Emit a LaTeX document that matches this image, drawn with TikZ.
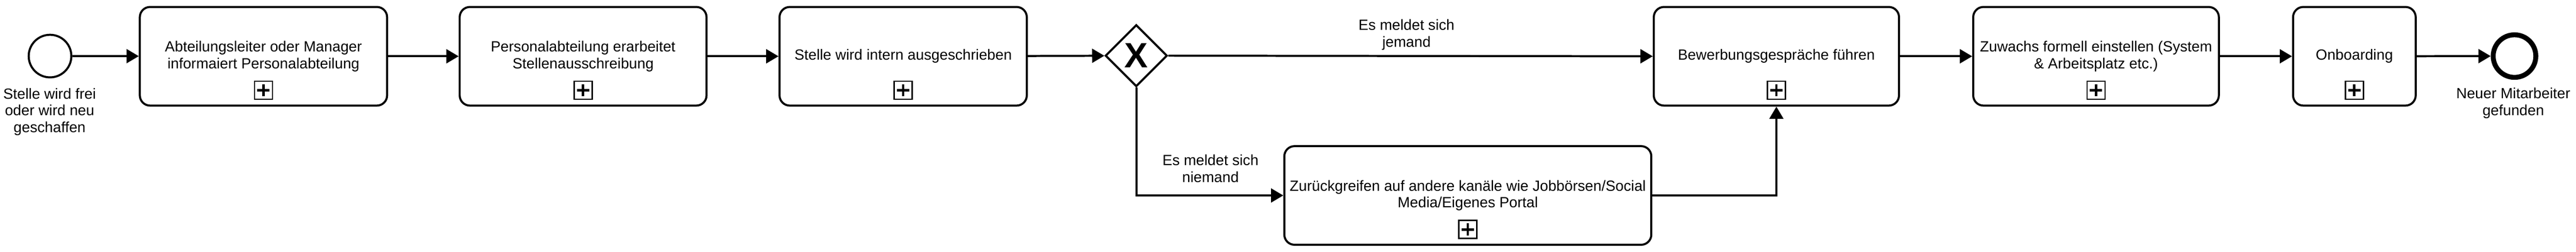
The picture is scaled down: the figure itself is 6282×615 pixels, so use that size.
\documentclass[tikz,border=0pt]{standalone}
\usepackage{fontspec}
\setmainfont{Liberation Sans}
\usetikzlibrary{arrows.meta,shapes.geometric}
\tikzset{
  txt/.style={font=\fontsize{36}{41}\selectfont, align=center},
  task/.style={draw, line width=5pt, rounded corners=25pt, minimum height=241pt, inner sep=0pt, txt, fill=white},
  startev/.style={draw, circle, line width=5pt, minimum size=104pt, inner sep=0pt},
  endev/.style={draw, circle, line width=12pt, minimum size=104pt, inner sep=0pt},
  gate/.style={draw, diamond, aspect=1, line width=5pt, minimum size=151pt, inner sep=0pt,
    font=\fontsize{86}{86}\selectfont\bfseries},
  flow/.style={line width=5pt, -{Triangle[length=30pt,width=34pt]}},
  lbl/.style={txt, inner sep=0pt},
}
\newcommand{\plusmark}[1]{%
  \draw[line width=3pt] ([xshift=-22pt,yshift=18pt]#1.south) rectangle ([xshift=22pt,yshift=62pt]#1.south);
  \draw[line width=6pt] ([yshift=25pt]#1.south) -- ([yshift=55pt]#1.south);
  \draw[line width=6pt] ([xshift=-15pt,yshift=40pt]#1.south) -- ([xshift=15pt,yshift=40pt]#1.south);
}
\begin{document}
\begin{tikzpicture}[x=1pt,y=-1pt]
\useasboundingbox[fill=white] (0,0) rectangle (6282,615);

\node[startev] (start) at (122,137) {};
\node[lbl] (startlbl) at (121,273) {Stelle wird frei\\oder wird neu\\geschaffen};

\node[task, minimum width=603pt] (b1) at (642.5,137.5) {Abteilungsleiter oder Manager\\informaiert Personalabteilung};
\node[task, minimum width=602pt] (b2) at (1422,137.5) {Personalabteilung erarbeitet\\Stellenausschreibung};
\node[task, minimum width=603pt] (b3) at (2202.5,137.5) {Stelle wird intern ausgeschrieben};
\node[gate] (gw) at (2771,136) {X};
\node[task, minimum width=598pt] (bew) at (4332,137.5) {Bewerbungsgespräche führen};
\node[task, minimum width=599pt] (zu) at (5111.5,137.5) {Zuwachs formell einstellen (System\\\& Arbeitsplatz etc.)};
\node[task, minimum width=299pt] (onb) at (5741.5,137.5) {Onboarding};
\node[endev] (end) at (6132,137) {};
\node[lbl] (endlbl) at (6129,252) {Neuer Mitarbeiter\\gefunden};

\node[task, minimum width=895pt] (alt) at (3579.5,477.5) {Zurückgreifen auf andere kanäle wie Jobbörsen/Social\\Media/Eigenes Portal};

\foreach \n in {b1,b2,b3,bew,zu,onb,alt} {\plusmark{\n}}

\node[lbl] (ljemand) at (3430,85) {Es meldet sich\\jemand};
\node[lbl] (lniemand) at (2952,412) {Es meldet sich\\niemand};

\draw[flow] (start) -- (b1);
\draw[flow] (b1) -- (b2);
\draw[flow] (b2) -- (b3);
\draw[flow] (b3) -- (gw);
\draw[flow] (gw.east) -- (bew.west);
\draw[flow] (gw.south) |- (alt.west);
\draw[flow] (alt.east) -| (bew.south);
\draw[flow] (bew) -- (zu);
\draw[flow] (zu) -- (onb);
\draw[flow] (onb) -- (end);
\end{tikzpicture}
\end{document}
